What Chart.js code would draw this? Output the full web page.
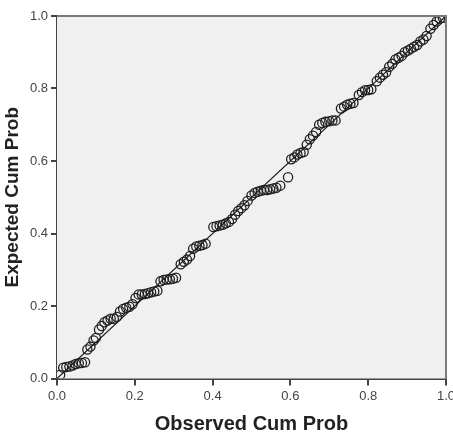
<!DOCTYPE html>
<html>
<head>
<meta charset="utf-8">
<script src="https://cdn.jsdelivr.net/npm/chart.js@4"></script>
<style>
  html, body { margin: 0; padding: 0; background: #fff; overflow: hidden; }
  #wrap { position: relative; width: 453px; height: 438px; }
</style>
</head>
<body>
<div id="wrap"><canvas id="chart"></canvas></div>
<script>
// P-P plot data: observed vs expected cumulative probability
const observed = [
  0.008, 0.016, 0.024, 0.032, 0.040, 0.048, 0.056, 0.064, 0.072, 0.078,
  0.086, 0.094, 0.100, 0.108, 0.115, 0.122, 0.130, 0.138, 0.146, 0.154,
  0.162, 0.170, 0.178, 0.186, 0.194, 0.202, 0.210, 0.218, 0.226, 0.234,
  0.242, 0.250, 0.258, 0.266, 0.274, 0.282, 0.290, 0.298, 0.306, 0.318,
  0.326, 0.334, 0.342, 0.350, 0.358, 0.366, 0.374, 0.382, 0.402, 0.410,
  0.418, 0.426, 0.434, 0.442, 0.450, 0.458, 0.466, 0.474, 0.482, 0.490,
  0.500, 0.508, 0.516, 0.524, 0.532, 0.540, 0.548, 0.556, 0.564, 0.574,
  0.594, 0.602, 0.610, 0.618, 0.626, 0.634, 0.642, 0.650, 0.658, 0.666,
  0.674, 0.682, 0.690, 0.700, 0.708, 0.716, 0.730, 0.738, 0.746, 0.754,
  0.762, 0.776, 0.784, 0.792, 0.800, 0.808, 0.822, 0.830, 0.838, 0.846,
  0.854, 0.862, 0.870, 0.878, 0.886, 0.894, 0.902, 0.910, 0.918, 0.926,
  0.934, 0.942, 0.950, 0.960, 0.968, 0.976, 0.984, 0.992
];
const expected = [
  0.010, 0.030, 0.032, 0.033, 0.036, 0.040, 0.042, 0.043, 0.045, 0.080,
  0.088, 0.105, 0.112, 0.135, 0.145, 0.155, 0.160, 0.165, 0.165, 0.170,
  0.185, 0.192, 0.195, 0.198, 0.205, 0.222, 0.232, 0.232, 0.233, 0.235,
  0.238, 0.240, 0.242, 0.268, 0.272, 0.273, 0.274, 0.275, 0.278, 0.315,
  0.322, 0.328, 0.338, 0.358, 0.364, 0.366, 0.368, 0.372, 0.418, 0.420,
  0.422, 0.424, 0.428, 0.432, 0.440, 0.452, 0.462, 0.470, 0.478, 0.490,
  0.505, 0.512, 0.515, 0.518, 0.520, 0.520, 0.522, 0.524, 0.526, 0.532,
  0.555, 0.605, 0.610, 0.618, 0.622, 0.625, 0.645, 0.660, 0.670, 0.680,
  0.700, 0.705, 0.708, 0.710, 0.712, 0.712, 0.745, 0.750, 0.755, 0.758,
  0.760, 0.782, 0.790, 0.795, 0.796, 0.798, 0.820, 0.830, 0.838, 0.845,
  0.860, 0.868, 0.880, 0.885, 0.890, 0.900, 0.905, 0.910, 0.915, 0.920,
  0.930, 0.935, 0.945, 0.965, 0.975, 0.985, 0.992, 0.995
];
const refLine = [0, 1];
const tickValues = [0, 0.2, 0.4, 0.6, 0.8, 1.0];
const xTitle = 'Observed Cum Prob';
const yTitle = 'Expected Cum Prob';

const points = observed.map((x, i) => ({ x: x, y: expected[i] }));

// grey plot background and frame, like SPSS output
const plotFrame = {
  id: 'plotFrame',
  beforeDatasetsDraw(chart) {
    const { ctx, chartArea: a } = chart;
    ctx.save();
    ctx.fillStyle = '#f0f0f0';
    ctx.fillRect(a.left, a.top, a.right - a.left, a.bottom - a.top);
    ctx.restore();
  },
  afterDraw(chart) {
    const { ctx, chartArea: a } = chart;
    ctx.save();
    ctx.strokeStyle = '#7a7a7a';
    ctx.lineWidth = 2;
    ctx.beginPath();
    ctx.moveTo(a.left, a.top);
    ctx.lineTo(a.right, a.top);
    ctx.lineTo(a.right, a.bottom);
    ctx.stroke();
    ctx.restore();
  }
};

const fam = 'Arial, "Liberation Sans", sans-serif';
const tickFont = { family: fam, size: 13 };

new Chart(document.getElementById('chart'), {
  type: 'scatter',
  data: {
    datasets: [
      {
        type: 'line',
        data: refLine.map(v => ({ x: v, y: v })),
        borderColor: '#1a1a1a',
        borderWidth: 1.2,
        pointRadius: 0,
        fill: false
      },
      {
        data: points,
        pointStyle: 'circle',
        pointRadius: 4.6,
        borderColor: '#1f1f1f',
        backgroundColor: 'rgba(0,0,0,0)',
        borderWidth: 1.3
      }
    ]
  },
  options: {
    responsive: true,
    maintainAspectRatio: false,
    animation: false,
    layout: { padding: { top: 16, right: 7, left: 0, bottom: 0 } },
    plugins: { legend: { display: false }, tooltip: { enabled: false } },
    scales: {
      x: {
        type: 'linear', min: 0, max: 1,
        afterBuildTicks(scale) { scale.ticks = tickValues.map(v => ({ value: v })); },
        afterFit(scale) { scale.height = 59.5; scale.paddingRight = 0; scale.paddingLeft = 0; },
        ticks: { callback: v => v.toFixed(1), font: tickFont, color: '#444', padding: 3, maxRotation: 0 },
        grid: { drawOnChartArea: false, tickLength: 7, color: '#444', lineWidth: 2 },
        border: { color: '#444', width: 2 },
        title: { display: true, text: xTitle, font: { family: fam, size: 20, weight: 'bold' }, color: '#222', padding: { top: 0, bottom: 2 } }
      },
      y: {
        type: 'linear', min: 0, max: 1,
        afterBuildTicks(scale) { scale.ticks = tickValues.map(v => ({ value: v })); },
        afterFit(scale) { scale.width = 57; },
        ticks: { callback: v => v.toFixed(1), font: tickFont, color: '#444', padding: 3 },
        grid: { drawOnChartArea: false, tickLength: 6, color: '#444', lineWidth: 2 },
        border: { color: '#444', width: 2 },
        title: { display: true, text: yTitle, font: { family: fam, size: 19, weight: 'bold' }, color: '#222', padding: { top: 1, bottom: 0 } }
      }
    }
  },
  plugins: [plotFrame]
});
</script>
</body>
</html>
